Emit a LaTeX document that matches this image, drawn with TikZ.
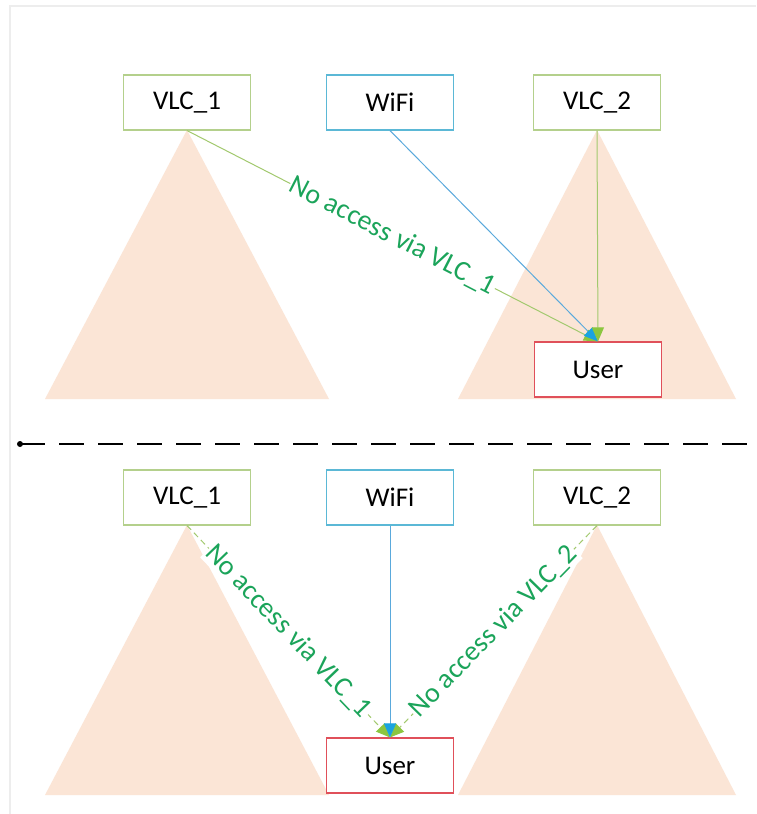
\documentclass[tikz,border=0pt]{standalone}
\usepackage{fontspec}
\setmainfont{Carlito}
\usetikzlibrary{arrows.meta}

\definecolor{vlcgreen}{HTML}{B4D08C}
\definecolor{wifiblue}{HTML}{5BB8D6}
\definecolor{userred}{HTML}{E0505A}
\definecolor{peach}{HTML}{FBE5D6}
\definecolor{linkgreen}{HTML}{A2C96E}
\definecolor{linkblue}{HTML}{5AA9DC}
\definecolor{headgreen}{HTML}{8CC63F}
\definecolor{headblue}{HTML}{1AA3E0}
\definecolor{labelgreen}{HTML}{1BA45A}
\definecolor{framegray}{HTML}{EDEDED}

\tikzset{
  box/.style={draw, line width=1.1pt, fill=white, minimum width=127pt,
    minimum height=55pt, inner sep=0pt, font=\fontsize{27}{32}\selectfont},
  vlcbox/.style={box, draw=vlcgreen},
  wifibox/.style={box, draw=wifiblue},
  userbox/.style={box, draw=userred},
  cone/.style={fill=peach, draw=none},
  greenlink/.style={draw=linkgreen, line width=1pt,
    -{Triangle[length=14pt, width=12pt, fill=headgreen, color=headgreen]}},
  bluelink/.style={draw=linkblue, line width=1pt,
    -{Triangle[length=14pt, width=12pt, fill=headblue, color=headblue]}},
  blockedlink/.style={greenlink, dash pattern=on 6pt off 4pt},
  lbl/.style={sloped, fill=white, inner sep=1pt, text=labelgreen,
    font=\fontsize{28}{32}\selectfont},
  separator/.style={line width=1.2pt, dash pattern=on 25pt off 14pt}
}

\begin{document}
\begin{tikzpicture}[x=1pt, y=-1pt]
  \useasboundingbox (0,0) rectangle (756,814);
  \fill[white] (0,0) rectangle (756,814);

  % faint outer frame
  \draw[framegray, line width=1.5pt] (756,6) -- (10,6) -- (10,814);

  % coverage cones (upper scenario)
  \fill[cone] (187,130) -- (45,399) -- (329,399) -- cycle;
  \fill[cone] (597,130) -- (458,399) -- (736,399) -- cycle;

  % coverage cones (lower scenario)
  \fill[cone] (187,525) -- (45,795) -- (329,795) -- cycle;
  \fill[cone] (597,525) -- (458,795) -- (736,795) -- cycle;

  % upper scenario
  \node[vlcbox]  (a1) at (187,102.5) {VLC\_1};
  \node[wifibox] (aw) at (390,102.5) {WiFi};
  \node[vlcbox]  (a2) at (597,102.5) {VLC\_2};
  \node[userbox] (au) at (598,369.5) {User};

  \draw[greenlink] (a1.south) -- node[lbl] {No access via VLC\_1} (au.north);
  \draw[bluelink]  (aw.south) -- (au.north);
  \draw[greenlink] (a2.south) -- (au.north);

  % separator
  \coordinate (sepL) at (20,444);
  \coordinate (sepR) at (756,444);
  \fill (sepL) circle (3pt);
  \draw[separator] (sepL) -- (sepR);

  % lower scenario
  \node[vlcbox]  (b1) at (187,497.5) {VLC\_1};
  \node[wifibox] (bw) at (390,497.5) {WiFi};
  \node[vlcbox]  (b2) at (597,497.5) {VLC\_2};
  \node[userbox] (bu) at (390,765.5) {User};

  \draw[blockedlink] (b1.south) -- node[lbl] {No access via VLC\_1} (bu.north);
  \draw[blockedlink] (b2.south) -- node[lbl] {No access via VLC\_2} (bu.north);
  \draw[bluelink]    (bw.south) -- (bu.north);
\end{tikzpicture}
\end{document}
